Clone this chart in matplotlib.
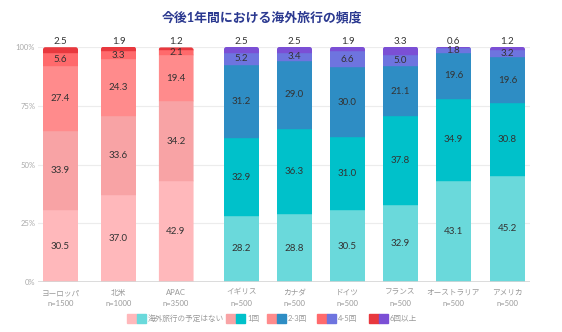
import matplotlib
matplotlib.use("Agg")
import matplotlib.pyplot as plt
from matplotlib.patches import Rectangle, FancyBboxPatch
import numpy as np

plt.rcParams['font.family'] = ['Lato', 'Noto Sans CJK JP', 'DejaVu Sans']

title = "今後1年間における海外旅行の頻度"
regions = ["ヨーロッパ", "北米", "APAC"]
region_n = ["n=1500", "n=1000", "n=3500"]
countries = ["イギリス", "カナダ", "ドイツ", "フランス", "オーストラリア", "アメリカ"]
country_n = ["n=500"] * 6
series = ["海外旅行の予定はない", "1回", "2-3回", "4-5回", "6回以上"]

# share (%) per frequency, bottom to top
region_vals = [
    [30.5, 37.0, 42.9],
    [33.9, 33.6, 34.2],
    [27.4, 24.3, 19.4],
    [5.6, 3.3, 2.1],
    [2.5, 1.9, 1.2],
]
country_vals = [
    [28.2, 28.8, 30.5, 32.9, 43.1, 45.2],
    [32.9, 36.3, 31.0, 37.8, 34.9, 30.8],
    [31.2, 29.0, 30.0, 21.1, 19.6, 19.6],
    [5.2, 3.4, 6.6, 5.0, 1.8, 3.2],
    [2.5, 2.5, 1.9, 3.3, 0.6, 1.2],
]
yticks = [0, 25, 50, 75, 100]

pink = ["#FFB8BB", "#F8A3A5", "#FF8B8C", "#FF6A6C", "#E8383E"]
teal = ["#6AD9DB", "#00C1CA", "#2E8DC4", "#6E74DF", "#7B4FD5"]

W, H = 562, 332
fig = plt.figure(figsize=(W / 100, H / 100), dpi=100)
ax_left, ax_right = 38, 530
ax_top, ax_bot = 47, 282
ax = fig.add_axes([ax_left / W, 1 - ax_bot / H, (ax_right - ax_left) / W, (ax_bot - ax_top) / H])
ax.set_xlim(ax_left, ax_right)
ax.set_ylim(0, 100)

region_x = [60.5, 118.5, 176]
country_x = [241.5, 294.5, 347.5, 400.5, 453.5, 507.5]
bw = 35
y_per_px = 100 / (ax_bot - ax_top)

for y in yticks[1:]:
    ax.axhline(y, color="#ECECEC", lw=0.8, zorder=0)
ax.axhline(0, color="#D5D5D5", lw=1.2, zorder=3)


def stack(xs, vals, colors):
    bottoms = np.zeros(len(xs))
    totals = np.sum(np.array(vals), axis=0)
    clips = []
    for x, t in zip(xs, totals):
        # rounded top corners; the bottom sits below the axis so it stays square
        clip = FancyBboxPatch((x - bw / 2, -10), bw, t + 10,
                              boxstyle="round,pad=0,rounding_size=2.5",
                              mutation_aspect=y_per_px, transform=ax.transData,
                              facecolor="none", edgecolor="none")
        ax.add_patch(clip)
        clips.append(clip)
    for i, v in enumerate(vals):
        v = np.array(v)
        bars = ax.bar(xs, v, width=bw, bottom=bottoms, color=colors[i], edgecolor=colors[i],
                      lw=0.3, zorder=2)
        for b, c in zip(bars, clips):
            b.set_clip_path(c)
        for x, b, h in zip(xs, bottoms, v):
            if i == len(vals) - 1:
                ax.text(x, 100.6, f"{h:.1f}", ha="center", va="bottom", fontsize=7, color="#333333")
            else:
                ax.text(x, b + h / 2, f"{h:.1f}", ha="center", va="center", fontsize=7, color="#333333")
        bottoms += v


stack(region_x, region_vals, pink)
stack(country_x, country_vals, teal)

ax.set_yticks(yticks)
ax.set_yticklabels([f"{t}%" for t in yticks], fontsize=5.5, color="#AAAAAA")
ax.tick_params(axis="y", length=0, pad=2)
ax.set_xticks(region_x + country_x)
ax.set_xticklabels([f"{a}\n{b}" for a, b in zip(regions + countries, region_n + country_n)],
                   fontsize=5.5, color="#999999", linespacing=1.6)
ax.tick_params(axis="x", length=0, pad=5)
for s in ax.spines.values():
    s.set_visible(False)

fig.text(262 / W, 1 - 17 / H, title, ha="center", va="center", fontsize=9.3,
         fontweight="bold", color="#2B3990")

# legend with paired swatches
leg_x = [127, 226, 267, 317, 369]
sw = 9.5
for lx, lab, pc, tc in zip(leg_x, series, pink, teal):
    for k, c in enumerate([pc, tc]):
        fig.patches.append(Rectangle(((lx + k * sw) / W, 1 - 323 / H), sw / W, 9.5 / H,
                                     transform=fig.transFigure, color=c))
    fig.text((lx + 2 * sw + 2) / W, 1 - 318 / H, lab, ha="left", va="center",
             fontsize=5.5, color="#999999")

fig.savefig("out.png", dpi=100)
